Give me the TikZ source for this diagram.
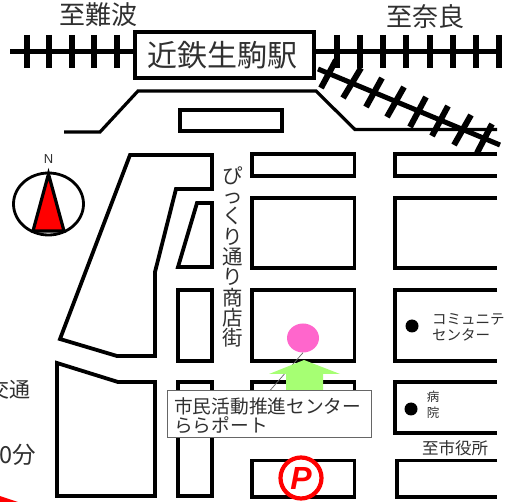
\documentclass[tikz,border=0pt]{standalone}
\usepackage{fontspec}
\usetikzlibrary{shapes.geometric}
\setmainfont{Noto Sans CJK JP}
\newfontfamily\latinsans{Liberation Sans}
\definecolor{inkgray}{HTML}{303030}
\definecolor{pinkspot}{HTML}{FF66CC}
\definecolor{greenarrow}{HTML}{A6FF73}
\tikzset{
  x=1pt,y=-1pt,
  track/.style={line width=5pt,black},
  tie/.style={line width=6pt,black},
  road/.style={line width=3.2pt,black,line join=miter},
  block/.style={line width=3.8pt,black,line join=miter},
  lab/.style={text=inkgray,inner sep=0pt,font=\fontsize{#1}{#1}\selectfont},
  dotmark/.style={circle,fill=black,inner sep=0pt,minimum size=13pt}
}
\begin{document}
\begin{tikzpicture}
\useasboundingbox (0,0) rectangle (506,502);
\clip (0,0) rectangle (506,502);
\fill[white] (0,0) rectangle (506,502);
% tracks
\node[draw=black,line width=4pt,fill=white,minimum width=179pt,minimum height=46pt,inner sep=0pt,anchor=center] (station) at (224.5,55.5) {};
\node[lab=30] (stationtext) at (222.5,55.5) {近鉄生駒駅};
\coordinate (wl) at (10,52);
\coordinate (er) at (498,52);
\coordinate (dr) at (500,145);
\coordinate (ds) at (318,69);
\draw[track] (wl) -- (wl-|station.west);
\draw[track] (er) -- (er-|station.east);
\draw[track] (ds) -- (dr);
\foreach \x in {27,49,72,94,117,337,360,383,406,430,453,476,499}
  \draw[tie] (\x,35) -- (\x,68.5);
\foreach \a/\b/\c/\d in {336/60/321/88,361/68/343/98,382/78/366/107,404/87/387/117,426/97/410/127,448/106/432/136,471/115/454/145,492/124/477/153}
  \draw[tie] (\a,\b) -- (\c,\d);
% road
\draw[road] (64,132) -- (100,132) -- (138,91) -- (316,91) -- (355,129.5) -- (497,129.5);
% blocks
\draw[block] (180,110) rectangle (282,131);
\draw[block] (252,154) rectangle (354.5,176);
\draw[block] (252,198) rectangle (354.5,268);
\draw[block] (252,290) rectangle (354.5,361);
\draw[block] (252,382) rectangle (354.5,432);
\draw[block] (252,460.5) rectangle (354.5,497);
\draw[block] (497,154) -- (395,154) -- (395,176) -- (497,176);
\draw[block] (497,198) -- (395,198) -- (395,268) -- (497,268);
\draw[block] (497,290) -- (395,290) -- (395,361) -- (497,361);
\draw[block] (497,382) -- (395,382) -- (395,433) -- (497,433);
\draw[block] (497,460.5) -- (397,460.5) -- (397,497) -- (497,497);
\draw[block] (197,203) -- (212,203) -- (212,267) -- (178,267) -- cycle;
\draw[block] (178,290) rectangle (212,361);
\draw[block] (178,382) rectangle (212,496);
\draw[block] (130,155) -- (212,155) -- (212,189) -- (176,189) -- (155,272) -- (155,356) -- (117,356) -- (60,339) -- cycle;
\draw[block] (57,363) -- (118,382) -- (155,382) -- (155,496) -- (57,496) -- cycle;
% compass
\draw[line width=2.8pt] (48.5,204) ellipse [x radius=35,y radius=31];
\draw[line width=3.2pt,fill=red,line join=miter] (48.5,174) -- (64,231) -- (33,231) -- cycle;
\node[text=inkgray,inner sep=0pt,font=\latinsans\fontsize{13}{13}\selectfont] (north) at (48.5,159) {N};
% labels
\node[lab=26] (nanba) at (98,15) {至難波};
\node[lab=26] (nara) at (425,17) {至奈良};
\node[lab=20,align=center,font=\fontsize{20.5}{20.3}\selectfont] (street) at (233,257) {ぴ\\っ\\く\\り\\通\\り\\商\\店\\街};
\node[lab=14.5,anchor=west] (comm1) at (432,319) {コミュニテ};
\node[lab=14.5,anchor=west] (comm2) at (432,335) {センター};
\node[lab=12.5,align=center,font=\fontsize{12.5}{16.5}\selectfont] (hosp) at (433,405) {病\\院};
\node[lab=16.5] (city) at (455,448) {至市役所};
\node[dotmark] (dot1) at (412,326) {};
\node[dotmark] (dot2) at (411,409) {};
% cropped text at left
\node[lab=21,anchor=east] (traffic) at (31,390) {交通};
\node[lab=23.5,anchor=east] (minutes) at (36,455) {0分};
\fill[red] (0,496) -- (18,502) -- (0,502) -- cycle;
% spot
\node[fill=pinkspot,ellipse,minimum width=32pt,minimum height=29pt,inner sep=0pt] (spot) at (303,338) {};
\node[draw=black!60,line width=0.8pt,fill=white,minimum width=204pt,minimum height=47pt,inner sep=0pt,text=inkgray] (callout) at (269,414) {};
\coordinate (leaderend) at (270,390.5);
\draw[black!60,line width=0.7pt] (spot.south) -- (leaderend);
\fill[greenarrow] (304,360) -- (340,374) -- (323,374) -- (323,390) -- (286,390) -- (286,374) -- (269,374) -- cycle;
\node[lab=18.7,anchor=west] (callout1) at (174,406) {市民活動推進センター};
\node[lab=18.7,anchor=west] (callout2) at (174,425) {ららポート};
% parking
\node[circle,draw=red,line width=4.2pt,fill=white,minimum size=41pt,inner sep=0pt,text=red,font=\latinsans\bfseries\itshape\fontsize{32}{32}\selectfont] (parking) at (301,478) {P};
\end{tikzpicture}
\end{document}
